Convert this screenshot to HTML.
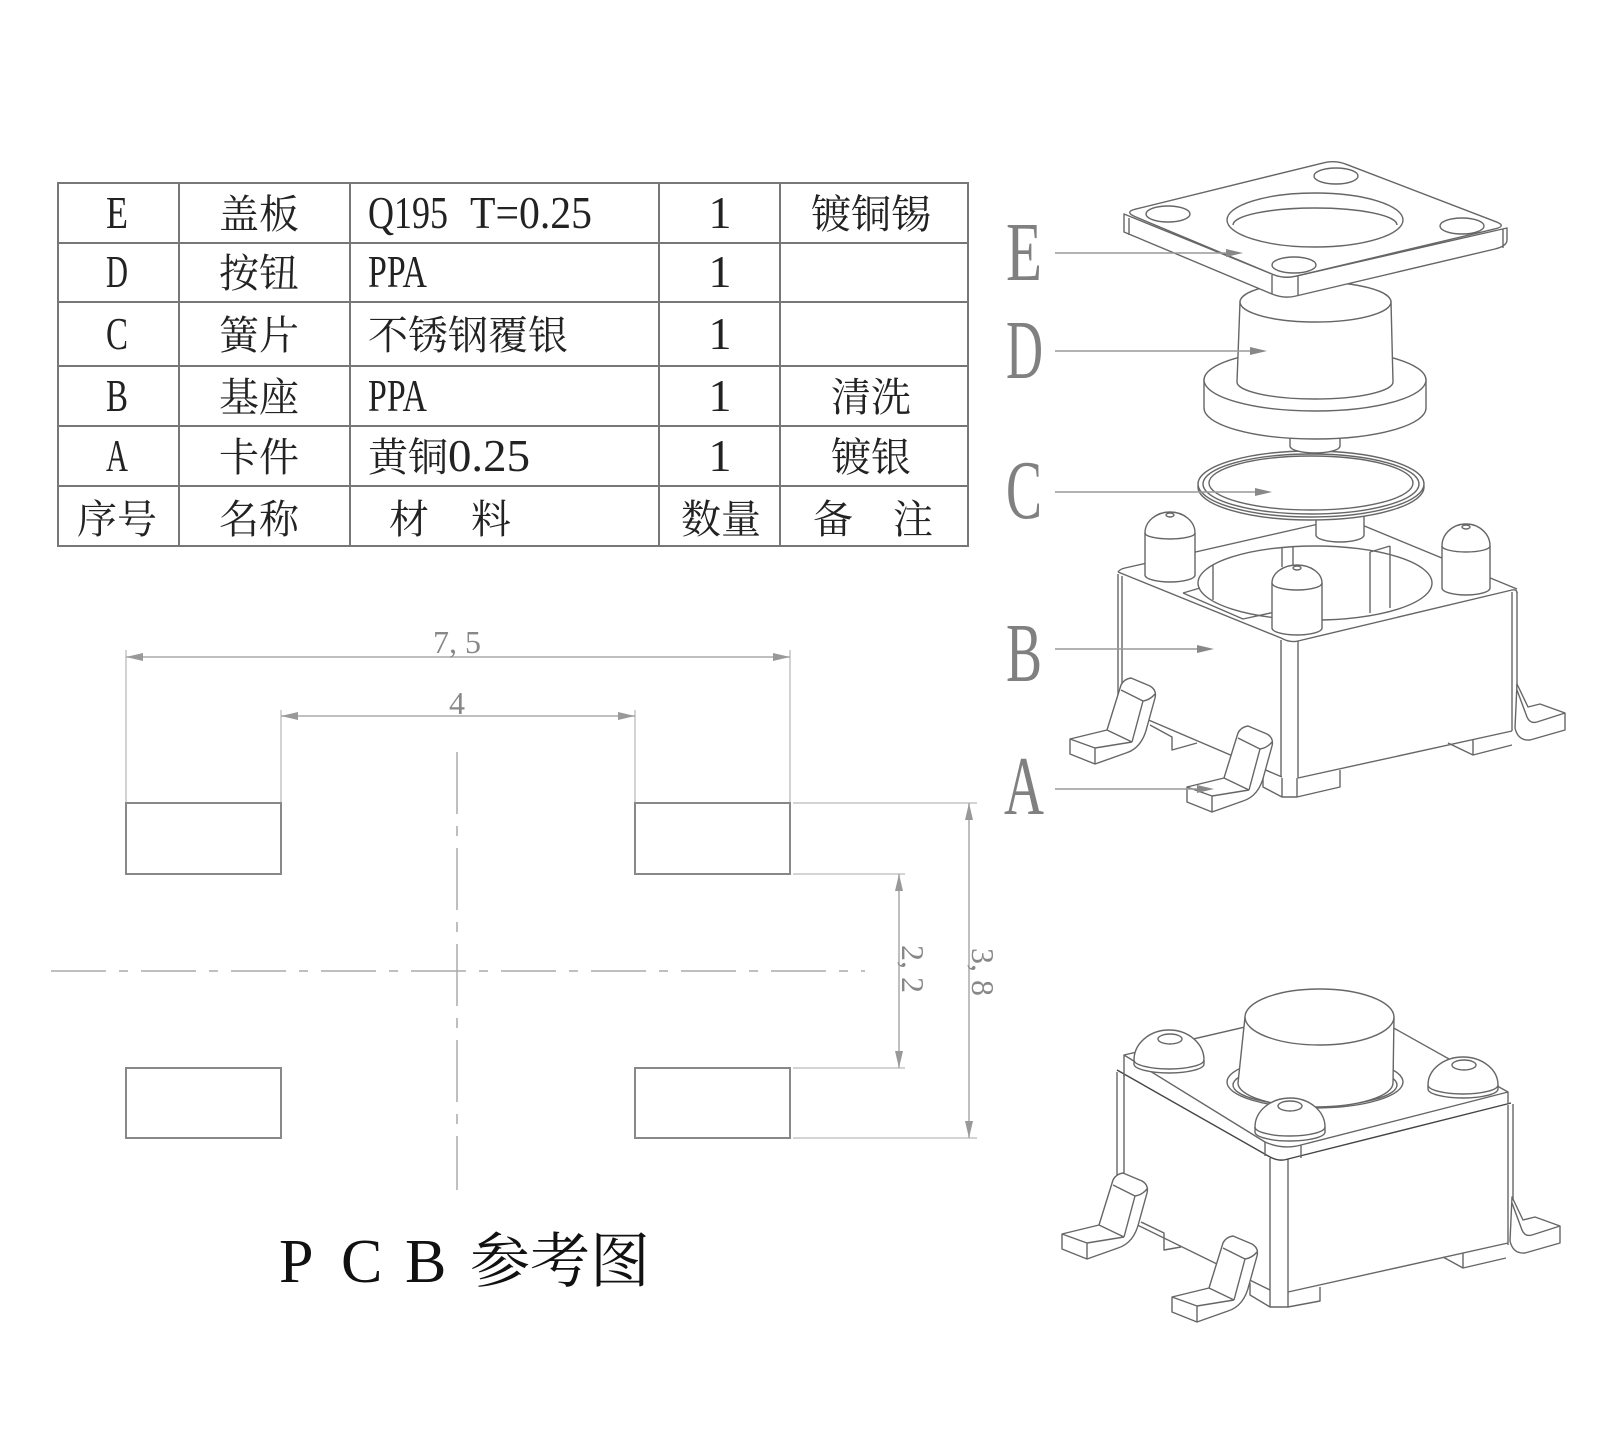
<!DOCTYPE html>
<html><head><meta charset="utf-8"><style>
html,body{margin:0;padding:0;background:#fff;}
svg{display:block;}
</style></head><body>
<svg width="1613" height="1449" viewBox="0 0 1613 1449" xmlns="http://www.w3.org/2000/svg">
<rect width="1613" height="1449" fill="#fff"/>
<defs>
<g id="leadL">
 <path d="M1070,739 L1107,730 L1121,685 Q1124,679 1131,678 L1150,686 Q1157,690 1155,698 L1147,727 Q1142,748 1126,753 L1095,764 L1070,754 Z" fill="#fff"/>
 <path d="M1070,739 L1095,748 L1132,742 M1095,748 L1095,764 M1107,730 L1132,742 M1132,742 L1143,701 M1121,690 L1143,701 Q1150,700 1155,694" fill="none"/>
</g>
<g id="leadR">
 <path d="M1517,684 L1528,707 L1540,704 L1565,713 L1565,730 L1530,740 Q1518,741 1515,728 Z" fill="#fff"/>
 <path d="M1517,690 L1527,717 Q1530,724 1537,722 L1565,713" fill="none"/>
</g>
</defs>

<!-- ================= TABLE ================= -->
<g stroke="#777" stroke-width="2" fill="none">
 <rect x="58" y="183" width="910" height="363"/>
 <line x1="58" y1="243" x2="968" y2="243"/>
 <line x1="58" y1="302" x2="968" y2="302"/>
 <line x1="58" y1="366" x2="968" y2="366"/>
 <line x1="58" y1="426" x2="968" y2="426"/>
 <line x1="58" y1="486" x2="968" y2="486"/>
 <line x1="179" y1="183" x2="179" y2="546"/>
 <line x1="350" y1="183" x2="350" y2="546"/>
 <line x1="659" y1="183" x2="659" y2="546"/>
 <line x1="780" y1="183" x2="780" y2="546"/>
</g>
<g fill="#222" font-family="'Liberation Serif','Noto Serif CJK SC',serif">
 <g font-size="46">
  <text x="106" y="228" textLength="22" lengthAdjust="spacingAndGlyphs">E</text>
  <text x="106" y="287" textLength="22" lengthAdjust="spacingAndGlyphs">D</text>
  <text x="106" y="349" textLength="22" lengthAdjust="spacingAndGlyphs">C</text>
  <text x="106" y="411" textLength="22" lengthAdjust="spacingAndGlyphs">B</text>
  <text x="106" y="471" textLength="22" lengthAdjust="spacingAndGlyphs">A</text>
  <text x="368" y="228" textLength="80" lengthAdjust="spacingAndGlyphs">Q195</text>
  <text x="470" y="228" textLength="122" lengthAdjust="spacingAndGlyphs">T=0.25</text>
  <text x="368" y="287" textLength="59" lengthAdjust="spacingAndGlyphs">PPA</text>
  <text x="368" y="411" textLength="59" lengthAdjust="spacingAndGlyphs">PPA</text>
  <text x="448" y="471" textLength="82" lengthAdjust="spacingAndGlyphs">0.25</text>
  <text x="720" y="228" text-anchor="middle">1</text>
  <text x="720" y="287" text-anchor="middle">1</text>
  <text x="720" y="349" text-anchor="middle">1</text>
  <text x="720" y="411" text-anchor="middle">1</text>
  <text x="720" y="471" text-anchor="middle">1</text>
 </g>
 <g font-size="40" font-family="'Noto Serif CJK SC','Liberation Serif',serif">
  <text x="219" y="228">盖板</text>
  <text x="219" y="287">按钮</text>
  <text x="219" y="349">簧片</text>
  <text x="219" y="411">基座</text>
  <text x="219" y="471">卡件</text>
  <text x="219" y="533">名称</text>
  <text x="77" y="533">序号</text>
  <text x="368" y="349">不锈钢覆银</text>
  <text x="368" y="471">黄铜</text>
  <text x="389" y="533">材</text>
  <text x="471" y="533">料</text>
  <text x="681" y="533">数量</text>
  <text x="811" y="228">镀铜锡</text>
  <text x="831" y="411">清洗</text>
  <text x="831" y="471">镀银</text>
  <text x="813" y="533">备</text>
  <text x="893" y="533">注</text>
 </g>
</g>

<!-- ================= PCB ================= -->
<g stroke="#bbb" stroke-width="1.3" fill="none">
 <line x1="126" y1="650" x2="126" y2="803"/>
 <line x1="790" y1="650" x2="790" y2="803"/>
 <line x1="281" y1="710" x2="281" y2="803"/>
 <line x1="635" y1="710" x2="635" y2="803"/>
 <line x1="793" y1="803" x2="977" y2="803"/>
 <line x1="793" y1="874" x2="905" y2="874"/>
 <line x1="793" y1="1068" x2="905" y2="1068"/>
 <line x1="793" y1="1138" x2="977" y2="1138"/>
</g>
<g stroke="#aaa" stroke-width="1.5" fill="none">
 <line x1="126" y1="657" x2="790" y2="657"/>
 <line x1="281" y1="716" x2="635" y2="716"/>
 <line x1="899" y1="874" x2="899" y2="1068"/>
 <line x1="969" y1="803" x2="969" y2="1138"/>
</g>
<g fill="#999">
 <polygon points="126,657 143,653 143,661"/>
 <polygon points="790,657 773,653 773,661"/>
 <polygon points="281,716 298,712 298,720"/>
 <polygon points="635,716 618,712 618,720"/>
 <polygon points="899,874 895,891 903,891"/>
 <polygon points="899,1068 895,1051 903,1051"/>
 <polygon points="969,803 965,820 973,820"/>
 <polygon points="969,1138 965,1121 973,1121"/>
</g>
<g stroke="#888" stroke-width="2" fill="none">
 <rect x="126" y="803" width="155" height="71"/>
 <rect x="635" y="803" width="155" height="71"/>
 <rect x="126" y="1068" width="155" height="70"/>
 <rect x="635" y="1068" width="155" height="70"/>
</g>
<g stroke="#aaa" stroke-width="1.5" fill="none">
 <line x1="457" y1="752" x2="457" y2="1190" stroke-dasharray="62 12 10 12"/>
 <line x1="51" y1="971" x2="865" y2="971" stroke-dasharray="55 13 9 13"/>
</g>
<g fill="#888" font-family="'Liberation Serif',serif" font-size="32">
 <text x="457" y="653" text-anchor="middle">7, 5</text>
 <text x="457" y="714" text-anchor="middle">4</text>
 <text transform="translate(902,969) rotate(90)" text-anchor="middle">2, 2</text>
 <text transform="translate(972,972) rotate(90)" text-anchor="middle">3, 8</text>
</g>
<g fill="#111" font-family="'Liberation Serif','Noto Serif CJK SC',serif">
 <text x="279" y="1282" font-size="62">P</text>
 <text x="341" y="1282" font-size="62">C</text>
 <text x="405" y="1282" font-size="62">B</text>
 <text x="470" y="1282" font-size="60" font-family="'Noto Serif CJK SC',serif">参考图</text>
</g>

<!-- ================= EXPLODED LABELS ================= -->
<g fill="#808080" font-family="'Liberation Serif',serif" font-size="84">
 <text x="1006" y="280" textLength="36" lengthAdjust="spacingAndGlyphs">E</text>
 <text x="1006" y="378" textLength="37" lengthAdjust="spacingAndGlyphs">D</text>
 <text x="1006" y="518" textLength="36" lengthAdjust="spacingAndGlyphs">C</text>
 <text x="1006" y="681" textLength="36" lengthAdjust="spacingAndGlyphs">B</text>
 <text x="1004" y="814" textLength="40" lengthAdjust="spacingAndGlyphs">A</text>
</g>

<!-- ================= EXPLODED: B base ================= -->
<g stroke="#666" stroke-width="1.4" fill="none" stroke-linejoin="round">
 <polygon points="1118,572 1290,643 1290,778 1118,707" fill="#fff" stroke="none"/>
 <polygon points="1290,643 1517,590 1517,730 1290,778" fill="#fff" stroke="none"/>
 <polygon points="1118,572 1345,519 1517,590 1290,643" fill="#fff" stroke="none"/>
 <path d="M1118,574 V707 M1122,576 V709 M1281,640 V777 M1298,641 V778 M1512,592 V731 M1517,592 V730"/>
 <path d="M1118,572 L1281,638 Q1290,643 1298,641 L1512,590 Q1517,589 1517,593"/>
 <path d="M1118,572 Q1120,569 1125,568 L1345,518 L1517,589"/>
 <path d="M1118,707 L1282,777 M1298,778 L1512,731"/>
 <!-- cavity -->
 <ellipse cx="1315" cy="583" rx="117" ry="37"/>
 <path d="M1183,593 L1200,588 M1183,593 L1243,619 L1275,612"/>
 <path d="M1213,565 V600 M1282,548 V567 M1293,547 V567 M1370,552 V613 M1390,546 V608 M1370,552 L1390,546"/>
 <!-- nub -->
 <path d="M1316,505 L1316,535 A24,7 0 0 0 1364,535 L1364,505 Z" fill="#fff"/>
</g>

<!-- ================= EXPLODED: C disk ================= -->
<g stroke="#666" stroke-width="1.4" fill="none">
 <ellipse cx="1311" cy="487" rx="113" ry="33" fill="#fff"/>
 <ellipse cx="1311" cy="484" rx="113" ry="33" fill="#fff"/>
 <ellipse cx="1311" cy="484" rx="108" ry="30"/>
 <ellipse cx="1311" cy="483" rx="102" ry="27"/>
</g>

<!-- posts exploded -->
<g stroke="#666" stroke-width="1.4" fill="#fff">
 <path d="M1145,575 L1145,533 A25,21 0 0 1 1195,533 L1195,575 A25,7 0 0 1 1145,575 Z"/>
 <path d="M1145,533 A25,6 0 0 0 1195,533" fill="none"/>
 <ellipse cx="1170" cy="515" rx="4" ry="2"/>
 <path d="M1442,588 L1442,546 A24,22 0 0 1 1490,546 L1490,588 A24,7 0 0 1 1442,588 Z"/>
 <path d="M1442,546 A24,6 0 0 0 1490,546" fill="none"/>
 <ellipse cx="1466" cy="527" rx="4" ry="2"/>
 <path d="M1272,628 L1272,583 A25,18 0 0 1 1322,583 L1322,628 A25,7 0 0 1 1272,628 Z"/>
 <path d="M1272,583 A25,7 0 0 0 1322,583" fill="none"/>
 <ellipse cx="1297" cy="568" rx="4" ry="2"/>
</g>

<!-- leads + standoffs exploded -->
<g stroke="#666" stroke-width="1.4" fill="none" stroke-linejoin="round">
 <path d="M1150,725 L1172,737 L1172,750 L1197,743"/>
 <path d="M1263,777 L1263,787 L1282,797 L1297,797 L1340,787 L1340,770 M1282,778 V797 M1297,778 V797"/>
 <path d="M1448,743 L1473,755 L1512,745 M1473,740 V755"/>
 <use href="#leadL"/>
 <use href="#leadL" transform="translate(117,48)"/>
 <use href="#leadR"/>
</g>

<!-- ================= EXPLODED: D button ================= -->
<g stroke="#666" stroke-width="1.4" fill="#fff">
 <path d="M1290,430 L1290,446 A25,7 0 0 0 1340,446 L1340,430 Z"/>
 <path d="M1204,380 L1204,408 A111,31 0 0 0 1426,408 L1426,380 Z"/>
 <ellipse cx="1315" cy="380" rx="111" ry="31"/>
 <path d="M1240,302 L1237,382 A78,17 0 0 0 1393,382 L1391,302 Z"/>
 <ellipse cx="1315.5" cy="302" rx="75.5" ry="20"/>
</g>

<!-- ================= EXPLODED: E plate ================= -->
<g stroke="#666" stroke-width="1.4" fill="#fff" stroke-linejoin="round">
 <path d="M1124,214 L1124,232 L1272,294 Q1284,299 1296,296 L1495,249 Q1507,246 1507,240 L1507,228 L1295.7,276.2 Q1284,279 1272.9,274.4 Z"/>
 <path d="M1135.7,209.1 L1323.3,162.9 Q1335,160 1346.2,164.3 L1495.8,221.7 Q1507,226 1495.3,228.8 L1295.7,276.2 Q1284,279 1272.9,274.4 L1135,216.6 Q1124,212 1135.7,209.1 Z"/>
 <path d="M1129,218 V235 M1272,275 V294 M1298,276 V296 M1503,229 V248" fill="none"/>
 <ellipse cx="1168" cy="214" rx="22" ry="8"/>
 <ellipse cx="1336" cy="176" rx="22" ry="8"/>
 <ellipse cx="1462" cy="226" rx="22" ry="8"/>
 <ellipse cx="1294" cy="265" rx="22" ry="8"/>
 <ellipse cx="1315" cy="220" rx="88" ry="27"/>
 <path d="M1233,225 A82,17 0 0 1 1397,225" fill="none"/>
</g>

<!-- leaders -->
<g stroke="#999" stroke-width="1.5">
 <line x1="1055" y1="253" x2="1232" y2="253"/>
 <line x1="1055" y1="351" x2="1256" y2="351"/>
 <line x1="1055" y1="492" x2="1261" y2="492"/>
 <line x1="1055" y1="649" x2="1203" y2="649"/>
 <line x1="1055" y1="789" x2="1203" y2="789"/>
</g>
<g fill="#888">
 <polygon points="1243,253 1226,249 1226,257"/>
 <polygon points="1267,351 1250,347 1250,355"/>
 <polygon points="1272,492 1255,488 1255,496"/>
 <polygon points="1214,649 1197,645 1197,653"/>
 <polygon points="1214,789 1197,785 1197,793"/>
</g>

<!-- ================= ASSEMBLED VIEW ================= -->
<g stroke="#666" stroke-width="1.4" fill="none" stroke-linejoin="round">
 <polygon points="1117,1070 1279,1160 1279,1292 1117,1200" fill="#fff" stroke="none"/>
 <polygon points="1279,1160 1511,1103 1511,1240 1279,1292" fill="#fff" stroke="none"/>
 <polygon points="1117,1070 1349,1013 1511,1103 1279,1160" fill="#fff" stroke="none"/>
 <path d="M1117,1072 V1215 M1124,1075 V1218 M1270,1158 V1307 M1288,1159 V1307 M1508,1105 V1245 M1513,1104 V1243"/>
 <path d="M1117,1070 L1270,1157 Q1279,1162 1288,1159 L1511,1103" stroke="#444"/>
 <path d="M1117,1215 L1270,1290 M1288,1292 L1508,1243"/>
 <!-- plate -->
 <path d="M1124,1055 L1349,1003 L1508,1092 L1301,1145 Q1283,1150 1265,1142 Z" fill="#fff"/>
 <path d="M1124,1055 V1077 M1265,1142 V1156 M1301,1145 V1158 M1508,1092 V1104"/>
 <!-- hole ring -->
 <ellipse cx="1315" cy="1082" rx="88" ry="26" fill="#fff"/>
 <ellipse cx="1315" cy="1085" rx="82" ry="21"/>
 <!-- button -->
 <path d="M1245,1017 L1238,1083 A77.5,24 0 0 0 1393,1083 L1394,1017 Z" fill="#fff"/>
 <ellipse cx="1319.5" cy="1017" rx="74.5" ry="28" fill="#fff"/>
</g>
<g stroke="#666" stroke-width="1.4" fill="#fff">
 <path d="M1134,1060 A35,30 0 0 1 1204,1060 L1204,1064 A35,9 0 0 1 1134,1064 Z"/>
 <path d="M1134,1060 A35,9 0 0 0 1204,1060" fill="none"/>
 <ellipse cx="1170" cy="1039" rx="12" ry="5"/>
 <path d="M1428,1085 A35,28 0 0 1 1498,1085 L1498,1089 A35,9 0 0 1 1428,1089 Z"/>
 <path d="M1428,1085 A35,9 0 0 0 1498,1085" fill="none"/>
 <ellipse cx="1464" cy="1065" rx="12" ry="5"/>
 <path d="M1255,1127 A35,29 0 0 1 1325,1127 L1325,1132 A35,9 0 0 1 1255,1132 Z"/>
 <path d="M1255,1127 A35,9 0 0 0 1325,1127" fill="none"/>
 <ellipse cx="1290" cy="1106" rx="12" ry="5"/>
</g>
<g stroke="#666" stroke-width="1.4" fill="none" stroke-linejoin="round">
 <path d="M1141,1222 L1164,1233 L1164,1250 L1181,1247"/>
 <path d="M1250,1283 L1250,1295 L1270,1307 L1288,1307 L1320,1301 L1320,1287"/>
 <path d="M1443,1257 L1463,1268 L1506,1258 M1463,1253 V1268"/>
 <use href="#leadL" transform="translate(-8,495)"/>
 <use href="#leadL" transform="translate(102,558)"/>
 <use href="#leadR" transform="translate(-5,513)"/>
</g>
</svg>
</body></html>
